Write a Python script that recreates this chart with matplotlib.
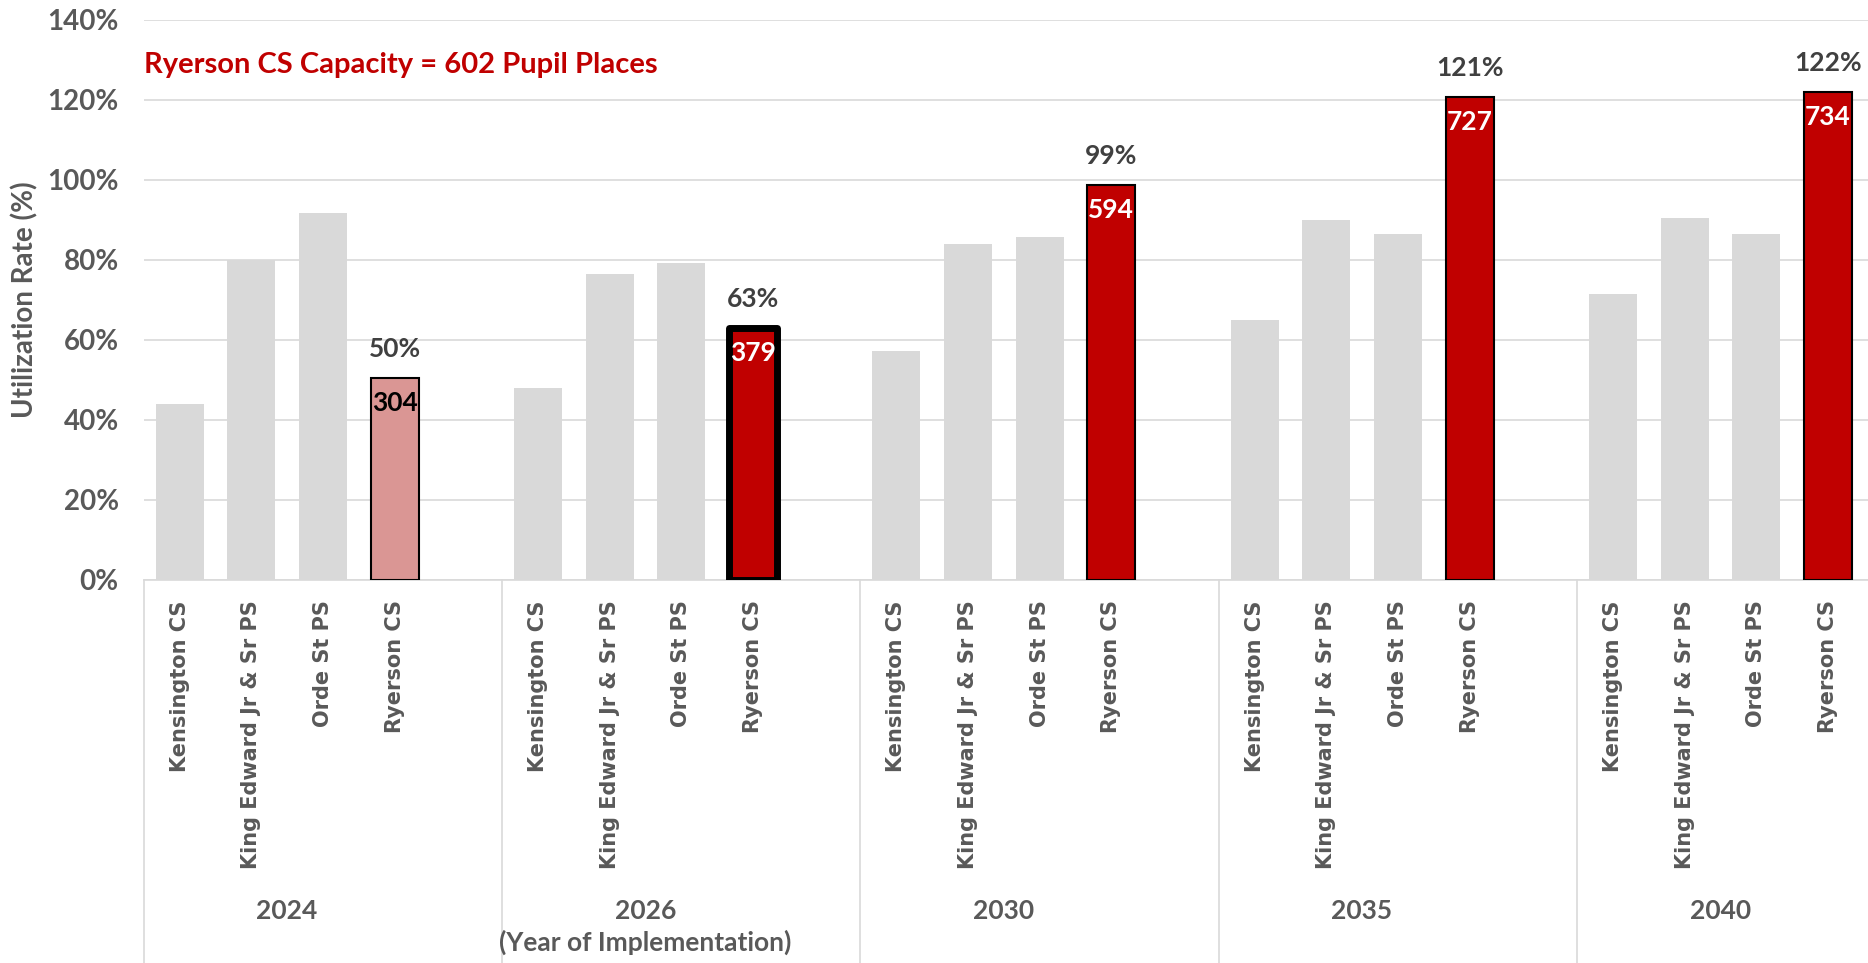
import matplotlib.pyplot as plt
import numpy as np
from matplotlib.ticker import PercentFormatter

# data
years = ['2024', '2026\n(Year of Implementation)', '2030', '2035', '2040']
schools = ['Kensington CS', 'King Edward Jr & Sr PS', 'Orde St PS', 'Ryerson CS']
kensington = [0.44, 0.48, 0.5725, 0.65, 0.715]
king_edward = [0.80, 0.765, 0.84, 0.90, 0.905]
orde = [0.917, 0.7925, 0.8575, 0.865, 0.865]
ryerson_enrol = [304, 379, 594, 727, 734]
capacity = 602
ryerson = [e / capacity for e in ryerson_enrol]

GREY = '#D9D9D9'
RED = '#C00000'
PINK = '#DA9694'
TXT = '#595959'
NUM_FONT = ['Lato', 'DejaVu Sans']
CAT_FONT = ['DejaVu Sans']

fig = plt.figure(figsize=(18.68, 9.63), dpi=100)
ax = fig.add_axes([143.7 / 1868, 383 / 963, 1 - 143.7 / 1868, 560 / 963])

n_slots = 5  # 4 schools + one empty slot per year group
width = 0.67
values = [kensington, king_edward, orde, ryerson]

for g in range(len(years)):
    for k in range(len(schools)):
        x = g * n_slots + k
        v = values[k][g]
        if k < 3:
            ax.bar(x, v, width, color=GREY, zorder=2)
        else:
            if g == 0:
                ax.bar(x, v, width, color=PINK, edgecolor='black', linewidth=1.5, zorder=3)
                inner = 'black'
            elif g == 1:
                ax.bar(x, v, width, color=RED, edgecolor='black', linewidth=5,
                       joinstyle='round', zorder=3)
                inner = 'white'
            else:
                ax.bar(x, v, width, color=RED, edgecolor='black', linewidth=1.5, zorder=3)
                inner = 'white'
            ax.annotate(f'{v:.0%}', (x, v), xytext=(0, 21), textcoords='offset points',
                        ha='center', va='center', fontsize=19, fontweight='bold',
                        color='#404040', family=NUM_FONT)
            ax.annotate(str(ryerson_enrol[g]), (x, v), xytext=(0, -18), textcoords='offset points',
                        ha='center', va='center', fontsize=19, fontweight='bold',
                        color=inner, family=NUM_FONT, zorder=4)

ax.set_xlim(-0.5, 23.56)
ax.set_ylim(0, 1.4)
ax.set_yticks(np.arange(0, 1.41, 0.2))
ax.yaxis.set_major_formatter(PercentFormatter(1.0, decimals=0))
ax.tick_params(axis='y', length=0, pad=18, labelsize=20, labelcolor=TXT)
for lab in ax.get_yticklabels():
    lab.set_fontweight('bold')
    lab.set_family(NUM_FONT)
ax.set_xticks([])
ax.grid(axis='y', color=GREY, linewidth=1.2, zorder=0)
ax.set_axisbelow(True)
for s in ['top', 'right', 'left']:
    ax.spines[s].set_visible(False)
ax.spines['bottom'].set_color(GREY)
ax.spines['bottom'].set_linewidth(1.2)

ax.set_ylabel('Utilization Rate (%)', fontsize=20, fontweight='bold', color=TXT,
              family=NUM_FONT, labelpad=6)

# multi-level category axis
xt = ax.get_xaxis_transform()
for g in range(len(years)):
    for k in range(len(schools)):
        ax.text(g * n_slots + k, -0.036, schools[k], transform=xt, rotation=90,
                ha='center', va='top', fontsize=15, fontweight='bold', color=TXT,
                family=CAT_FONT)
    ax.text(g * n_slots + 1.5, -0.57, years[g], transform=xt, ha='center', va='top',
            fontsize=19, fontweight='bold', color=TXT, family=NUM_FONT, linespacing=1.3)
for b in range(len(years) + 1):
    ax.plot([b * n_slots - 0.5] * 2, [0, -0.684], transform=xt, color=GREY,
            linewidth=1.2, clip_on=False)

ax.text(0.0, 1.2875, 'Ryerson CS Capacity = 602 Pupil Places', ha='left', va='center',
        fontsize=21, fontweight='bold', color=RED, family=NUM_FONT,
        transform=ax.get_yaxis_transform())

fig.savefig('out.png', dpi=100)
